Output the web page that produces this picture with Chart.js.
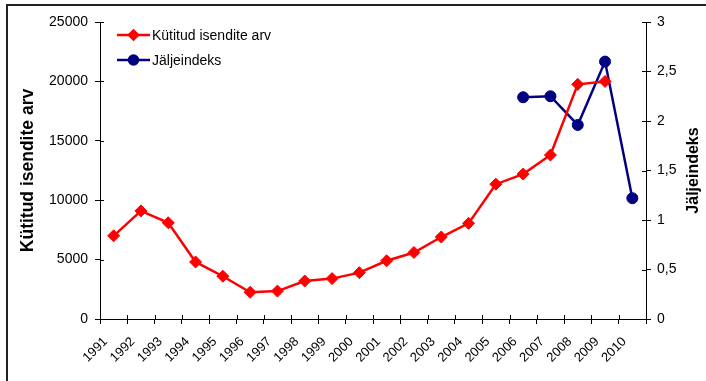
<!DOCTYPE html>
<html>
<head>
<meta charset="utf-8">
<script src="https://cdn.jsdelivr.net/npm/chart.js@4.4.0/dist/chart.umd.min.js"></script>
<style>
    body { margin: 0; background: #fff; }
</style>
</head>
<body>
<canvas id="myChart" width="706" height="381"></canvas>

<script>
    // yearly data
    var years = ['1991', '1992', '1993', '1994', '1995', '1996', '1997', '1998', '1999', '2000',
                 '2001', '2002', '2003', '2004', '2005', '2006', '2007', '2008', '2009', '2010'];
    var kytitud = [7000, 9100, 8100, 4800, 3600, 2250, 2350, 3200, 3400, 3900,
                   4900, 5600, 6900, 8050, 11350, 12200, 13800, 19750, 20000, null];
    var jaljeindeks = [null, null, null, null, null, null, null, null, null, null,
                       null, null, null, null, null, 2.24, 2.25, 1.96, 2.6, 1.22];

    var leftTitle = 'Kütitud isendite arv';
    var rightTitle = 'Jäljeindeks';

    var FONT = "'Liberation Sans', Arial, sans-serif";
    Chart.defaults.font.family = FONT;
    Chart.defaults.font.size = 14;
    Chart.defaults.color = '#000';

    // frame, inner halves of the tick marks, axis titles and legend
    var extras = {
        id: 'extras',
        beforeDraw: function (chart) {
            var ctx = chart.ctx;
            ctx.save();
            ctx.fillStyle = '#fff';
            ctx.fillRect(0, 0, chart.width, chart.height);
            ctx.strokeStyle = '#222';
            ctx.lineWidth = 2;
            ctx.beginPath();
            ctx.moveTo(chart.width + 2, 5);
            ctx.lineTo(7, 5);
            ctx.lineTo(7, chart.height + 2);
            ctx.stroke();
            ctx.restore();
        },
        beforeDatasetsDraw: function (chart) {
            var ctx = chart.ctx, a = chart.chartArea;
            var y = chart.scales.y, y1 = chart.scales.y1;
            ctx.save();
            ctx.strokeStyle = '#000';
            ctx.lineWidth = 1;
            ctx.beginPath();
            y.ticks.forEach(function (t) {
                var p = Math.round(y.getPixelForValue(t.value)) + 0.5;
                ctx.moveTo(a.left, p); ctx.lineTo(a.left + 4, p);
            });
            y1.ticks.forEach(function (t) {
                var p = Math.round(y1.getPixelForValue(t.value)) + 0.5;
                ctx.moveTo(a.right, p); ctx.lineTo(a.right - 4, p);
            });
            var n = years.length;
            for (var i = 0; i <= n; i++) {
                var px = Math.round(a.left + i * (a.right - a.left) / n) + 0.5;
                ctx.moveTo(px, a.bottom); ctx.lineTo(px, a.bottom - 4);
            }
            ctx.stroke();
            ctx.restore();
        },
        afterDraw: function (chart) {
            var ctx = chart.ctx, a = chart.chartArea;
            var midY = (a.top + a.bottom) / 2;
            ctx.save();
            ctx.fillStyle = '#000';
            ctx.font = 'bold 17.5px ' + FONT;
            ctx.textAlign = 'center';
            ctx.textBaseline = 'middle';
            ctx.translate(28, midY);
            ctx.rotate(-Math.PI / 2);
            ctx.fillText(leftTitle, 0, 0);
            ctx.restore();

            ctx.save();
            ctx.fillStyle = '#000';
            ctx.font = 'bold 16px ' + FONT;
            ctx.textAlign = 'center';
            ctx.textBaseline = 'middle';
            ctx.translate(694, midY);
            ctx.rotate(-Math.PI / 2);
            ctx.fillText(rightTitle, 0, 0);
            ctx.restore();

            // legend
            chart.data.datasets.forEach(function (ds, i) {
                var ly = 35 + i * 25;
                ctx.save();
                ctx.strokeStyle = ds.borderColor;
                ctx.lineWidth = 2.5;
                ctx.beginPath();
                ctx.moveTo(117, ly); ctx.lineTo(150, ly);
                ctx.stroke();
                ctx.fillStyle = ds.backgroundColor;
                Chart.helpers.drawPoint(ctx, {
                    pointStyle: ds.pointStyle, radius: 4.5, rotation: 0, borderWidth: 1
                }, 133.5, ly);
                ctx.fillStyle = '#000';
                ctx.font = '14px ' + FONT;
                ctx.textAlign = 'left';
                ctx.textBaseline = 'middle';
                ctx.fillText(ds.label, 152, ly + 1);
                ctx.restore();
            });
        }
    };

    var ctx = document.getElementById('myChart');
    var myChart = new Chart(ctx, {
        type: 'line',
        data: {
            labels: years,
            datasets: [
                {
                    label: 'Kütitud isendite arv',
                    data: kytitud,
                    yAxisID: 'y',
                    borderColor: '#FF0000',
                    backgroundColor: '#FF0000',
                    borderWidth: 2.5,
                    pointStyle: 'rectRot',
                    pointRadius: 6,
                    pointBorderWidth: 1,
                    tension: 0
                },
                {
                    label: 'Jäljeindeks',
                    data: jaljeindeks,
                    yAxisID: 'y1',
                    borderColor: '#000080',
                    backgroundColor: '#000080',
                    borderWidth: 2.5,
                    pointStyle: 'circle',
                    pointRadius: 5.5,
                    pointBorderWidth: 1,
                    tension: 0
                }
            ]
        },
        options: {
            responsive: false,
            animation: false,
            layout: { padding: { top: 22, left: 0, right: 0, bottom: 0 } },
            plugins: {
                legend: { display: false },
                tooltip: { enabled: false }
            },
            scales: {
                x: {
                    offset: true,
                    grid: { offset: true, drawOnChartArea: false, tickLength: 5, color: '#000' },
                    border: { color: '#000' },
                    ticks: { minRotation: 45, maxRotation: 45, padding: 10, labelOffset: -8, font: { size: 13 } },
                    afterFit: function (s) { s.height = 62; }
                },
                y: {
                    position: 'left',
                    min: 0,
                    max: 25000,
                    grid: { drawOnChartArea: false, tickLength: 5, color: '#000' },
                    border: { color: '#000' },
                    ticks: {
                        stepSize: 5000,
                        padding: 7,
                        callback: function (v) { return String(v); }
                    },
                    afterFit: function (s) { s.width = 100; }
                },
                y1: {
                    position: 'right',
                    min: 0,
                    max: 3,
                    grid: { drawOnChartArea: false, tickLength: 5, color: '#000' },
                    border: { color: '#000' },
                    ticks: {
                        stepSize: 0.5,
                        padding: 6,
                        callback: function (v) { return String(v).replace('.', ','); }
                    },
                    afterFit: function (s) { s.width = 60; }
                }
            }
        },
        plugins: [extras]
    });
</script>
</body>
</html>
